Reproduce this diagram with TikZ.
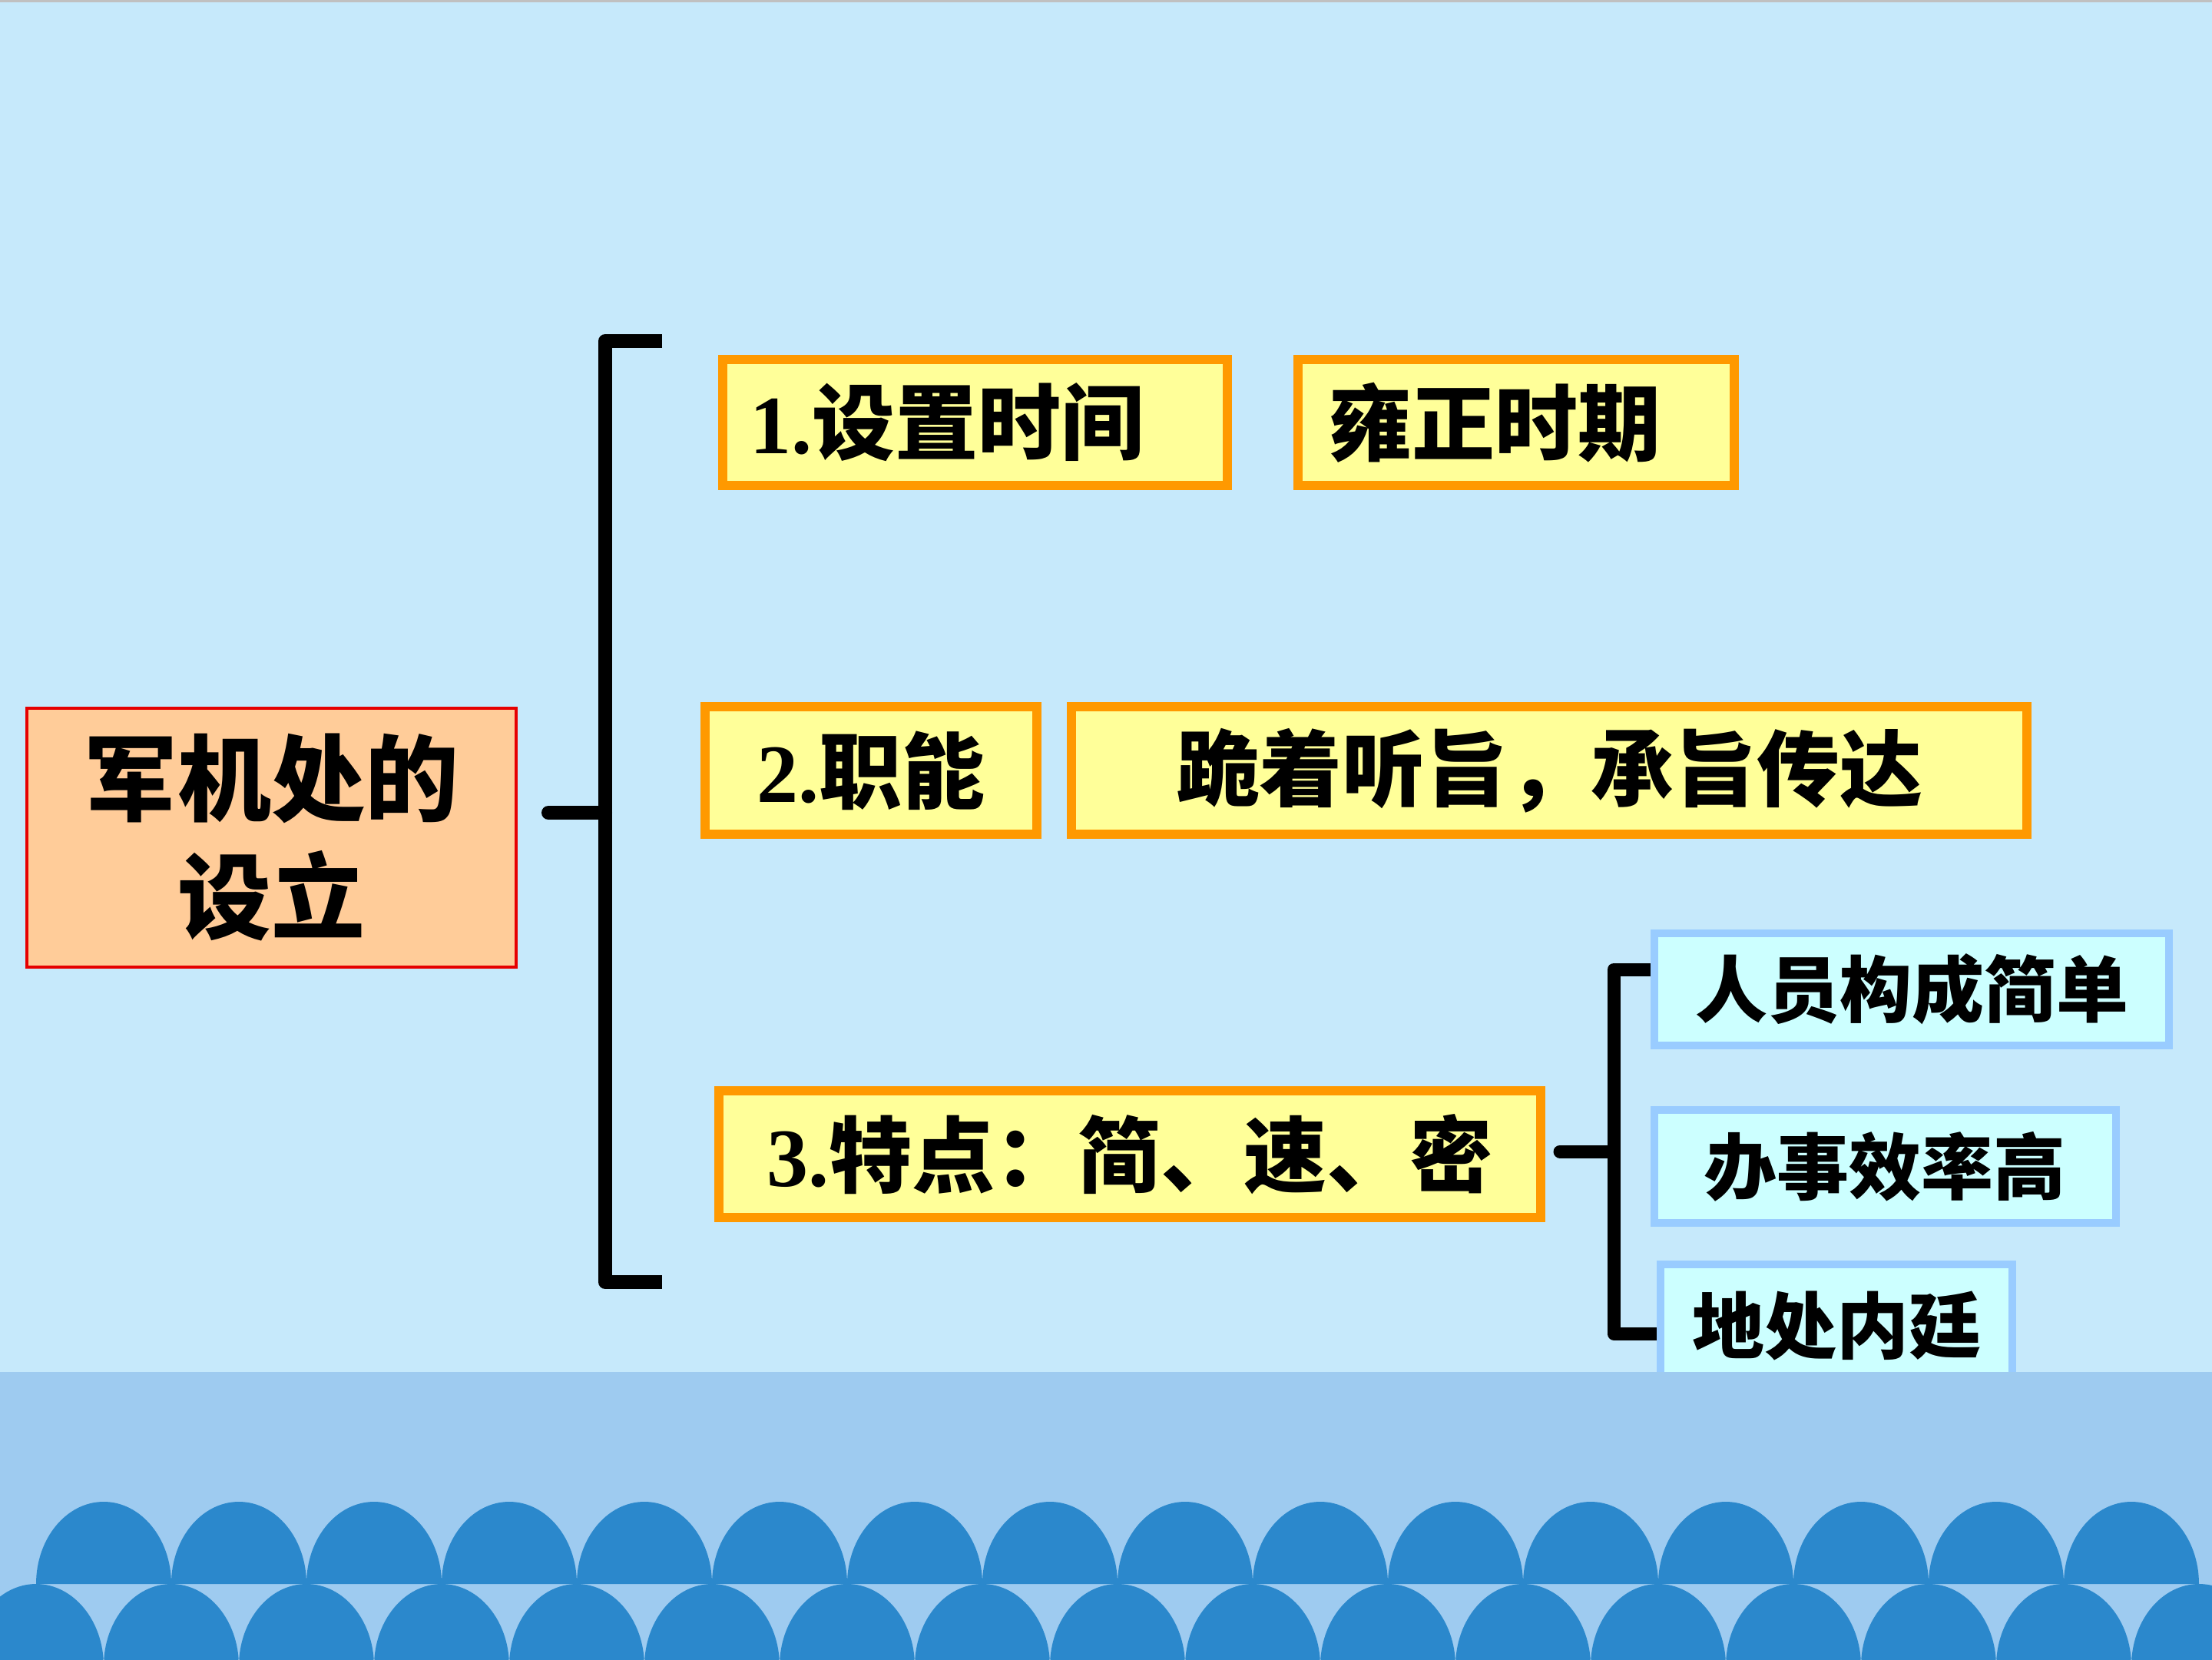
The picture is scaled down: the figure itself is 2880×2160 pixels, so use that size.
\documentclass[tikz,border=0pt]{standalone}
\usepackage{fontspec}
\newfontfamily\cjk{Noto Sans CJK SC}
\newfontfamily\numfont{Liberation Serif}
\definecolor{bgtop}{RGB}{198,233,251}
\definecolor{bandc}{RGB}{158,203,240}
\definecolor{domec}{RGB}{43,136,204}
\definecolor{orangeb}{RGB}{255,153,0}
\definecolor{yellowf}{RGB}{255,255,153}
\definecolor{blueb}{RGB}{153,204,255}
\definecolor{cyanf}{RGB}{204,255,255}
\definecolor{peachf}{RGB}{255,204,153}
\definecolor{redb}{RGB}{230,0,0}
\definecolor{topgray}{RGB}{192,192,192}
\tikzset{
  obox/.style={draw=orangeb, line width=12pt, fill=yellowf, inner sep=0pt,
    font=\cjk\bfseries\fontsize{108}{120}\selectfont},
  bbox/.style={draw=blueb, line width=10pt, fill=cyanf, inner sep=0pt,
    font=\cjk\bfseries\fontsize{94}{110}\selectfont},
  mainbox/.style={draw=redb, line width=4pt, fill=peachf, inner sep=0pt,
    align=center, font=\cjk\bfseries\fontsize{122}{154}\selectfont},
  brk/.style={line width=18pt, line join=round, black},
  subbrk/.style={line width=17pt, line join=round, black},
  dome/.style={fill=domec},
}
\newcommand{\nm}[1]{{\numfont\bfseries #1}}
\begin{document}
\begin{tikzpicture}[x=1pt,y=-1pt]
\useasboundingbox (0,0) rectangle (2880,2160);
% background
\fill[bgtop] (0,0) rectangle (2880,2160);
\fill[topgray] (0,0) rectangle (2880,3);

% main node
\node[mainbox, minimum width=637pt, minimum height=337pt] (main) at (353.5,1090.5) {军机处的\\设立};

% first level boxes
\node[obox, minimum height=164pt, text width=587pt, align=left, inner xsep=35pt] (time) at (1269.5,550) {\nm{1.}设置时间};
\node[obox, minimum height=164pt, text width=488pt, align=left, inner xsep=40pt] (yz) at (1974,550) {雍正时期};
\node[obox, minimum width=432pt, minimum height=166pt] (func) at (1134,1003) {\nm{2.}职能};
\node[obox, minimum width=1244pt, minimum height=166pt] (gui) at (2017,1003) {跪着听旨，承旨传达};
\node[obox, minimum width=1070pt, minimum height=165pt] (feat) at (1471,1502.5) {\nm{3.}特点：简、速、密};

% second level boxes
\node[bbox, minimum width=670pt, minimum height=146pt] (ra) at (2489,1288) {人员构成简单};
\node[bbox, minimum width=601pt, minimum height=147pt] (rb) at (2454.5,1518.5) {办事效率高};
\node[bbox, minimum width=458pt, minimum height=159pt] (rc) at (2391,1725.5) {地处内廷};

% main bracket
\coordinate (bTopEnd) at (862,444);
\coordinate (bTop) at (788,444);
\coordinate (bBot) at (788,1669);
\coordinate (bBotEnd) at (862,1669);
\coordinate (bMid) at (788,1058);
\coordinate (stubL) at (714,1058);
\draw[brk] (bTopEnd) -- (bTop) -- (bBot) -- (bBotEnd);
\draw[brk, line cap=round] (stubL) -- (bMid);

% sub bracket
\coordinate (sTop) at (2101,1262);
\coordinate (sBot) at (2101,1736);
\coordinate (sMid) at (2101,1499);
\coordinate (sStub) at (2031,1499);
\draw[subbrk] (ra.west |- sTop) -- (sTop) -- (sBot) -- (rc.west |- sBot);
\draw[subbrk, line cap=round] (sStub) -- (sMid);

% bottom band with domes
\begin{scope}
\clip (0,0) rectangle (2880,2160);
\fill[bandc] (0,1786) rectangle (2880,2160);
\foreach \k in {0,...,15} {
  \fill[dome] ({135+176*\k-88},2062) arc[start angle=180, end angle=0, x radius=88pt, y radius=107pt] -- cycle;
}
\foreach \k in {0,...,16} {
  \fill[dome] ({47+176*\k-88},2169) arc[start angle=180, end angle=0, x radius=88pt, y radius=107pt] -- cycle;
}
\end{scope}
\end{tikzpicture}
\end{document}
